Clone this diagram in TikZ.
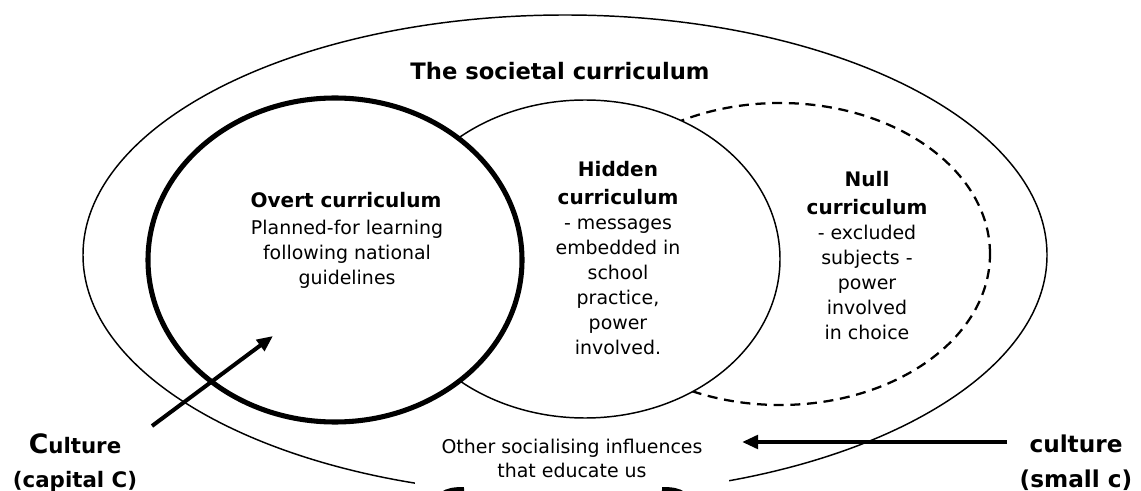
\documentclass[tikz,border=0pt]{standalone}
\usepackage{fontspec}
\setmainfont{DejaVu Sans}
\usetikzlibrary{arrows.meta}

% centred multi-line text whose baseline is the first line
\newcommand{\lines}[1]{\begin{tabular}[t]{@{}c@{}}#1\end{tabular}}
\newcommand{\bodyfont}{\fontsize{14.2}{18.75}\selectfont}
\newcommand{\headfont}{\fontsize{15}{21}\selectfont\bfseries}

\tikzset{
  thinline/.style={line width=1.1pt},
  overtline/.style={line width=3.8pt},
  nullline/.style={line width=1.7pt, dash pattern=on 7.5pt off 5pt},
  txt/.style={inner sep=0pt, anchor=base},
  head/.style={txt, font=\headfont},
  body/.style={txt, font=\bodyfont},
  culturearrow/.style={line width=3pt, -{Triangle[length=12pt,width=10pt]}},
}

\begin{document}
\begin{tikzpicture}[x=0.75pt, y=-0.75pt]
  \useasboundingbox (0,0) rectangle (1141,491);

  % societal curriculum (outer)
  \draw[thinline] (565,255) ellipse [x radius=361.5pt, y radius=180pt];
  % null curriculum
  \draw[nullline] (780,254) ellipse [x radius=157.5pt, y radius=113.25pt];
  % hidden curriculum
  \draw[thinline, fill=white] (585,259) ellipse [x radius=146.25pt, y radius=119.25pt];
  % overt curriculum
  \draw[overtline, fill=white] (335,260) ellipse [x radius=140.25pt, y radius=121.5pt];

  \node[txt, font=\fontsize{17}{21}\selectfont\bfseries] (societal) at (560,80)
    {The societal curriculum};

  \node[head] (overthead) at (346,208) {Overt curriculum};
  \node[body] (overtbody) at (347,235)
    {\lines{Planned-for learning\\following national\\guidelines}};

  \node[head] (hiddenhead) at (618,177) {\lines{Hidden\\curriculum}};
  \node[body] (hiddenbody) at (618,230)
    {\lines{- messages\\embedded in\\school\\practice,\\power\\involved.}};

  \node[head] (nullhead) at (867,187) {\lines{Null\\curriculum}};
  \node[body] (nullbody) at (867,240)
    {\lines{- excluded\\subjects -\\power\\involved\\in choice}};

  \node[body, font=\fontsize{14.2}{18}\selectfont, fill=white,
        inner xsep=20pt, inner ysep=8pt] (other) at (572,453)
    {\lines{Other socialising influences\\that educate us}};

  \node[txt, font=\fontsize{16}{25.5}\selectfont\bfseries] (bigculture) at (75,453)
    {\lines{{\fontsize{20}{24}\selectfont C}ulture\\(capital C)}};
  \node[txt, font=\fontsize{17.4}{26.25}\selectfont\bfseries] (smallculture) at (1076,452)
    {\lines{culture\\(small c)}};

  % arrows
  \coordinate (bigtail) at (152,426);
  \coordinate (bigtip) at (273,336);
  \coordinate (smalltail) at (1007,442);
  \coordinate (smalltip) at (742,442);
  \draw[culturearrow] (bigtail) -- (bigtip);
  \draw[culturearrow] (smalltail) -- (smalltip);

  % shapes rising in from the lower edge
  \draw[line width=3pt] (442,494) .. controls (447,490) and (454,489) .. (464,489);
  \draw[line width=3pt] (662,489) .. controls (672,489) and (679,490) .. (684,494);
\end{tikzpicture}
\end{document}
